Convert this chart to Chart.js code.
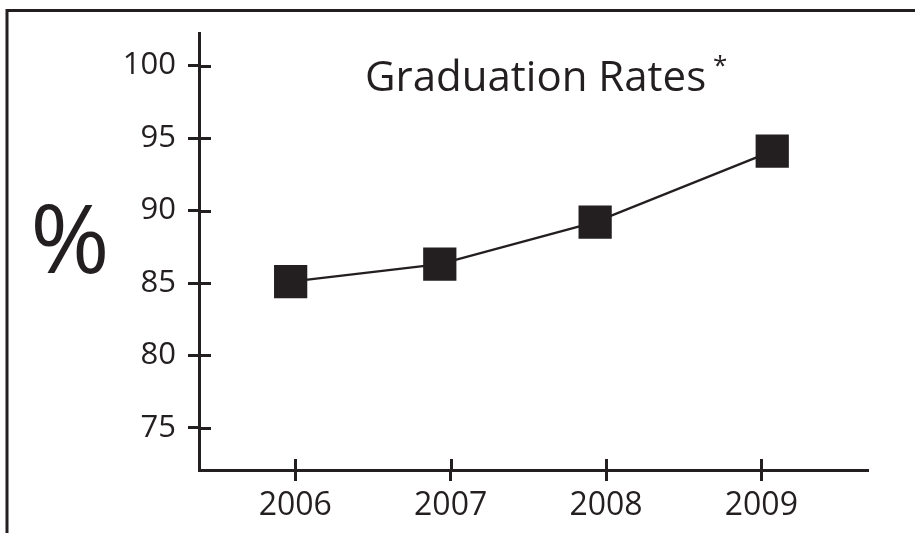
<!DOCTYPE html>
<html>
<head>
<meta charset="utf-8">
<title>Graduation Rates</title>
<script src="https://cdn.jsdelivr.net/npm/chart.js@4.4.1/dist/chart.umd.min.js"></script>
<style>
  html, body { margin: 0; padding: 0; background: #fff; }
  #wrap { width: 915px; height: 533px; }
</style>
</head>
<body>
<div id="wrap"><canvas id="chart" width="915" height="533"></canvas></div>
<script>
// data
const years = [2006, 2007, 2008, 2009];
// the markers in the original sit a little off their year ticks
const markerYears = [2005.97, 2006.93, 2007.93, 2009.07];
const rates = [85.1, 86.3, 89.2, 94.1];
const yTicks = [75, 80, 85, 90, 95, 100];

const INK = '#231f20';
const FONT = "'Open Sans', 'Noto Sans', sans-serif";

// frame, big % sign, title and the inner half of each tick
const decorPlugin = {
    id: 'decor',
    beforeDraw(chart) {
        const ctx = chart.ctx;
        ctx.save();
        ctx.strokeStyle = INK;
        ctx.lineWidth = 3;
        ctx.beginPath();
        ctx.moveTo(7, chart.height);
        ctx.lineTo(7, 10.5);
        ctx.lineTo(chart.width, 10.5);
        ctx.stroke();
        ctx.restore();
    },
    afterDraw(chart) {
        const ctx = chart.ctx;
        const xs = chart.scales.x;
        const ys = chart.scales.y;
        const area = chart.chartArea;
        ctx.save();
        ctx.strokeStyle = INK;
        ctx.lineWidth = 3;
        ctx.beginPath();
        yTicks.forEach(v => {
            const py = Math.round(ys.getPixelForValue(v)) + 0.5;
            ctx.moveTo(area.left - 1, py);
            ctx.lineTo(area.left + 12, py);
        });
        years.forEach(v => {
            const px = Math.round(xs.getPixelForValue(v)) + 0.5;
            ctx.moveTo(px, area.bottom + 1);
            ctx.lineTo(px, area.bottom - 11);
        });
        ctx.stroke();

        ctx.fillStyle = INK;
        ctx.textBaseline = 'alphabetic';
        ctx.textAlign = 'left';
        ctx.font = '42px ' + FONT;
        ctx.fillText('Graduation Rates', 365, 91);
        ctx.font = '26px ' + FONT;
        ctx.fillText('*', 713, 74);
        ctx.font = '96px ' + FONT;
        ctx.textAlign = 'center';
        ctx.fillText('%', 70, 273);
        ctx.restore();
    }
};

new Chart(document.getElementById('chart'), {
    type: 'line',
    data: {
        datasets: [{
            data: markerYears.map((y, i) => ({ x: y, y: rates[i] })),
            borderColor: INK,
            borderWidth: 2.3,
            pointStyle: 'rect',
            pointRadius: 23.5,
            pointHoverRadius: 23.5,
            pointBackgroundColor: INK,
            pointBorderColor: INK,
            pointBorderWidth: 0,
            tension: 0,
            clip: false
        }]
    },
    options: {
        responsive: false,
        devicePixelRatio: 1,
        animation: false,
        layout: { padding: { top: 33, right: 48, left: 0, bottom: 0 } },
        plugins: {
            legend: { display: false },
            tooltip: { enabled: false },
            title: { display: false }
        },
        scales: {
            x: {
                type: 'linear',
                min: 2005.38,
                max: 2009.68,
                afterBuildTicks(scale) { scale.ticks = years.map(v => ({ value: v })); },
                afterFit(scale) { scale.height = 63; },
                grid: { drawOnChartArea: false, drawTicks: true, tickLength: 11, color: INK, lineWidth: 3 },
                border: { display: true, color: INK, width: 3 },
                ticks: {
                    color: INK,
                    font: { family: FONT, size: 32 },
                    padding: 6,
                    maxRotation: 0,
                    callback: v => String(v)
                }
            },
            y: {
                min: 72.1,
                max: 102.25,
                afterBuildTicks(scale) { scale.ticks = yTicks.map(v => ({ value: v })); },
                afterFit(scale) { scale.width = 199; },
                grid: { drawOnChartArea: false, drawTicks: true, tickLength: 11, color: INK, lineWidth: 3 },
                border: { display: true, color: INK, width: 3 },
                ticks: {
                    color: INK,
                    font: { family: FONT, size: 31 },
                    padding: 12,
                    callback: v => String(v)
                }
            }
        }
    },
    plugins: [decorPlugin]
});
</script>
</body>
</html>
